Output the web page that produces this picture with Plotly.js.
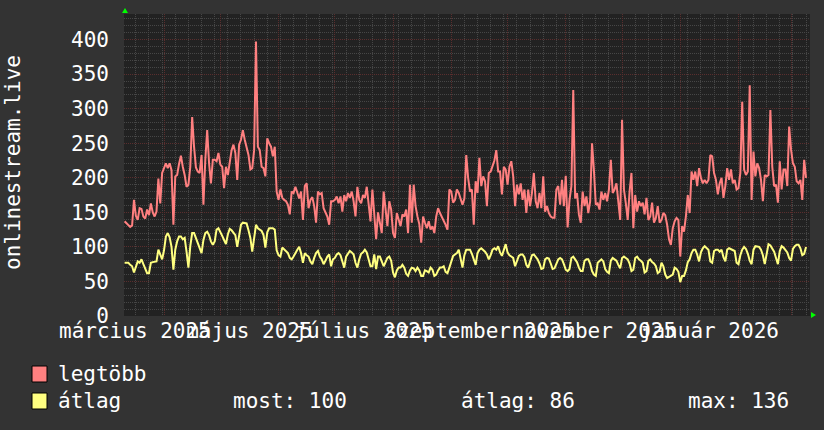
<!DOCTYPE html>
<html><head><meta charset="utf-8">
<script src="https://cdn.plot.ly/plotly-3.0.1.min.js"></script>
<style>html,body{margin:0;padding:0;background:#333333;}</style>
</head><body><div id="chart" style="width:824px;height:430px;"></div>
<script>
// ---- data ----
const startDate = '2025-03-11';   // first daily sample
const legtobb = [
 137,134,131,129,131,168,145,139,156,155,144,141,154,146,163,150,144,151,199,163,207,
 215,221,214,221,211,132,202,204,220,232,216,204,187,190,216,288,245,215,209,207,233,161,226,269,221,192,226,226,224,236,
 219,216,185,216,204,226,240,248,236,197,248,255,269,255,245,233,212,214,240,397,245,240,216,214,202,257,250,245,231,245,180,
 168,183,171,168,166,161,147,180,178,187,178,170,180,139,188,192,156,168,172,159,135,180,176,178,156,149,144,132,166,166,
 168,173,163,173,151,175,166,178,171,180,166,144,187,168,163,175,171,187,166,137,183,149,111,150,135,120,180,151,130,166,154,
 120,113,149,139,130,147,144,154,120,190,135,190,159,144,133,106,144,135,127,137,125,130,120,144,156,149,144,139,132,125,183,
 180,164,168,183,178,168,161,170,233,200,180,183,132,195,178,229,188,202,195,159,207,209,216,225,240,209,209,176,216,212,
 190,216,224,202,159,190,176,192,168,183,149,183,159,178,207,166,156,178,156,202,151,159,149,144,142,142,183,188,161,197,159,
 203,128,168,188,327,170,178,147,135,180,159,173,149,166,250,211,161,163,154,180,168,178,166,183,226,178,183,192,163,139,
 284,183,163,139,180,207,127,175,151,166,159,164,147,171,139,144,164,135,142,159,135,139,149,146,132,111,103,127,137,142,139,
 86,130,122,144,175,149,209,197,209,188,214,200,192,197,192,197,233,231,207,197,176,192,200,171,188,214,197,212,192,197,183,
 185,207,310,212,204,209,334,168,238,202,221,214,197,166,204,202,204,298,216,188,190,164,224,183,212,212,188,274,
 241,221,216,195,192,197,168,226,200
];
const atlag = [
 77,77,77,74,72,63,70,79,77,82,75,68,62,62,77,78,79,79,96,89,82,
 95,115,120,114,100,67,96,108,115,115,111,113,93,70,101,120,120,113,108,98,91,110,120,122,117,108,103,108,125,127,
 120,116,110,104,118,126,124,121,117,100,118,132,135,135,134,124,113,93,110,132,127,125,123,117,99,121,127,127,127,125,95,
 88,86,99,96,94,91,84,82,86,92,96,100,91,77,91,88,86,79,75,84,91,94,86,82,75,80,86,89,72,82,
 84,89,91,88,80,70,86,91,94,92,89,77,70,82,90,92,96,92,80,72,72,89,68,86,86,80,72,78,84,86,80,
 63,56,66,70,70,74,70,61,58,66,70,69,65,70,66,58,58,66,65,63,70,67,58,60,66,70,70,72,64,62,70,
 80,87,89,91,96,84,70,88,96,96,96,90,80,74,91,96,98,96,93,89,82,88,96,98,96,101,92,87,96,104,
 92,88,86,84,72,80,87,89,89,85,74,70,80,88,89,86,82,76,68,69,82,84,83,76,68,69,76,82,84,82,75,
 67,65,68,84,86,82,78,70,65,65,80,82,82,76,65,60,58,77,80,82,79,68,64,62,80,84,82,80,74,69,
 84,86,84,82,76,65,67,84,86,82,80,77,63,65,80,82,78,76,72,62,64,77,72,60,55,57,58,60,70,68,64,
 49,58,58,66,78,82,91,96,96,89,79,92,98,101,99,96,79,77,94,96,96,93,96,85,79,96,98,97,96,94,77,
 75,88,96,100,97,90,80,75,96,101,101,100,96,88,75,92,104,102,97,93,84,75,94,101,99,96,92,84,
 80,97,101,103,103,98,88,90,100
];
const seriesNames = ['legtöbb', 'átlag'];
const statTexts = ['most: 100', 'átlag: 86', 'max: 136'];
const axisTitle = 'onlinestream.live';
const monthLabels = ['március 2025','május 2025','július 2025','szeptember 2025','november 2025','január 2026'];
const monthLabelDates = ['2025-03-16 12:00','2025-05-16 12:00','2025-07-16 12:00','2025-09-16 00:00','2025-11-16 00:00','2026-01-16 12:00'];
const xRange = ['2025-03-10 16:30','2026-03-11 02:30'];

// ---- build ----
const t0 = Date.parse(startDate + 'T00:00:00Z');
const dates = legtobb.map((_, i) => new Date(t0 + i * 864e5).toISOString().slice(0, 10));

const RED = '#ff8080', YEL = '#ffff80';
const FONT = 'DejaVu Sans Mono';
const L = 124, R = 810, T = 14, B = 316;
const px = x => (x - L) / (R - L);
const py = y => (B - y) / (B - T);

const traces = [
  {x: dates, y: legtobb, type: 'scatter', mode: 'lines', name: seriesNames[0],
   line: {color: RED, width: 2}, xaxis: 'x', yaxis: 'y', hoverinfo: 'skip'},
  {x: dates, y: atlag, type: 'scatter', mode: 'lines', name: seriesNames[1],
   line: {color: YEL, width: 2}, xaxis: 'x2', yaxis: 'y', hoverinfo: 'skip'}
];

const MAJ = '#5a2e2e', MIN = '#464646';
const layout = {
  width: 824, height: 430,
  margin: {l: L, r: 824 - R, t: T, b: 430 - B, pad: 0},
  paper_bgcolor: '#333333', plot_bgcolor: '#222222',
  showlegend: false,
  font: {family: FONT, size: 21, color: '#ffffff'},
  xaxis: {type: 'date', range: xRange, tick0: '2025-04-01', dtick: 'M1',
    showticklabels: false, ticks: '', showgrid: true, gridcolor: MAJ, griddash: '1px,1px', gridwidth: 1,
    zeroline: false, showline: false,
    minor: {tick0: '2025-03-17', dtick: 7 * 864e5, showgrid: true, gridcolor: MIN, griddash: '1px,1px', gridwidth: 1}},
  xaxis2: {type: 'date', range: xRange, overlaying: 'x', anchor: 'y', side: 'bottom',
    tickmode: 'array', tickvals: monthLabelDates, ticktext: monthLabels, tickangle: 0,
    showgrid: false, ticks: '', zeroline: false, showline: false,
    tickfont: {family: FONT, size: 21, color: '#ffffff'}},
  yaxis: {range: [0, 437], tickmode: 'linear', tick0: 0, dtick: 50,
    showgrid: true, gridcolor: MAJ, griddash: '1px,1px', gridwidth: 1,
    zeroline: false, showline: false, ticks: '', ticklabelstandoff: 14,
    tickfont: {family: FONT, size: 21, color: '#ffffff'},
    minor: {tick0: 0, dtick: 10, showgrid: true, gridcolor: MIN, griddash: '1px,1px', gridwidth: 1}},
  annotations: [
    {xref: 'paper', yref: 'paper', x: px(13), y: py(163), text: axisTitle, textangle: -90,
     showarrow: false, xanchor: 'center', yanchor: 'middle', font: {family: FONT, size: 21, color: '#ffffff'}},
    {xref: 'paper', yref: 'paper', x: px(56), y: py(374), text: seriesNames[0], showarrow: false,
     xanchor: 'left', yanchor: 'middle', font: {family: FONT, size: 21, color: '#ffffff'}},
    {xref: 'paper', yref: 'paper', x: px(56), y: py(401), text: seriesNames[1], showarrow: false,
     xanchor: 'left', yanchor: 'middle', font: {family: FONT, size: 21, color: '#ffffff'}},
    {xref: 'paper', yref: 'paper', x: px(231), y: py(401), text: statTexts[0], showarrow: false,
     xanchor: 'left', yanchor: 'middle', font: {family: FONT, size: 21, color: '#ffffff'}},
    {xref: 'paper', yref: 'paper', x: px(459), y: py(401), text: statTexts[1], showarrow: false,
     xanchor: 'left', yanchor: 'middle', font: {family: FONT, size: 21, color: '#ffffff'}},
    {xref: 'paper', yref: 'paper', x: px(686), y: py(401), text: statTexts[2], showarrow: false,
     xanchor: 'left', yanchor: 'middle', font: {family: FONT, size: 21, color: '#ffffff'}}
  ],
  shapes: [
    {type: 'rect', xref: 'paper', yref: 'paper', x0: px(32), x1: px(47), y0: py(382), y1: py(366),
     fillcolor: RED, line: {color: '#000000', width: 1}},
    {type: 'rect', xref: 'paper', yref: 'paper', x0: px(32), x1: px(47), y0: py(409), y1: py(393),
     fillcolor: YEL, line: {color: '#000000', width: 1}},
    {type: 'path', xref: 'paper', yref: 'paper',
     path: `M ${px(122)} ${py(13)} L ${px(128)} ${py(13)} L ${px(125)} ${py(8)} Z`,
     fillcolor: '#00ff00', line: {width: 0}},
    {type: 'path', xref: 'paper', yref: 'paper',
     path: `M ${px(811)} ${py(312)} L ${px(811)} ${py(318)} L ${px(816)} ${py(315)} Z`,
     fillcolor: '#00ff00', line: {width: 0}}
  ]
};

Plotly.newPlot('chart', traces, layout, {displayModeBar: false, staticPlot: true});
</script>
</body></html>
